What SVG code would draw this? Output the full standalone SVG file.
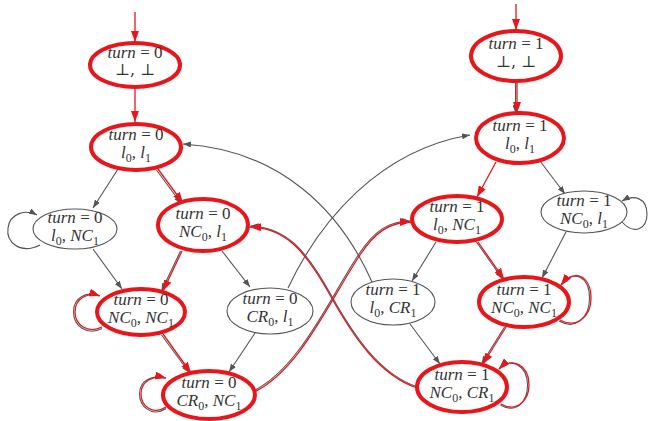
<svg xmlns="http://www.w3.org/2000/svg" width="648" height="421" viewBox="0 0 648 421">
<style>
.bg{fill:#ffffff}
.nr{fill:#ffffff;stroke:#e8151b;stroke-width:4}
.ng{fill:#ffffff;stroke:#555555;stroke-width:1.1}
.er{fill:none;stroke:#e8151b;stroke-width:1.3}
.eg{fill:none;stroke:#555555;stroke-width:1.1}
text{font-family:"Liberation Serif","Times New Roman","DejaVu Serif",serif;font-size:17px;fill:#333333;text-anchor:middle}
.i{font-style:italic}
.s{font-size:12px}
.bot{font-family:"DejaVu Serif","Liberation Serif",serif;font-size:16px}
</style>
<defs>
<marker id="ar" markerUnits="userSpaceOnUse" markerWidth="12" markerHeight="8" refX="11" refY="4" orient="auto"><path d="M0,0 L11,4 L0,8 z" fill="#e8151b"/></marker>
<marker id="ag" markerUnits="userSpaceOnUse" markerWidth="9" markerHeight="6" refX="8" refY="3" orient="auto"><path d="M0,0 L8,3 L0,6 z" fill="#555555"/></marker>
</defs>
<rect class="bg" x="0" y="0" width="648" height="421"/>
<g id="connectors">
<path class="er" d="M135,12 L135,42" marker-end="url(#ar)"/>
<path class="er" d="M516,4 L516,30" marker-end="url(#ar)"/>
<path class="er" d="M135,88 L135,122" marker-end="url(#ar)"/>
<path class="eg" d="M118,169 L93,208" marker-end="url(#ag)"/>
<path class="eg" d="M156.5,170 L181.5,204" marker-end="url(#ag)"/>
<path class="er" d="M158,169 L183,203" marker-end="url(#ar)"/>
<path class="eg" d="M93,249 L122,289" marker-end="url(#ag)"/>
<path class="eg" d="M180.5,251 L161.5,291" marker-end="url(#ag)"/>
<path class="er" d="M182,251 L163,291" marker-end="url(#ar)"/>
<path class="eg" d="M222,251 L250,287" marker-end="url(#ag)"/>
<path class="eg" d="M161.5,335 L189.5,373" marker-end="url(#ag)"/>
<path class="er" d="M163,334 L191,373" marker-end="url(#ar)"/>
<path class="eg" d="M255,333 L229,372" marker-end="url(#ag)"/>
<path class="eg" d="M515.5,82 L515.5,113" marker-end="url(#ag)"/>
<path class="er" d="M517,82 L517,113" marker-end="url(#ar)"/>
<path class="er" d="M496,162 L477,197" marker-end="url(#ar)"/>
<path class="eg" d="M540,161 L565,194" marker-end="url(#ag)"/>
<path class="eg" d="M436,242 L412,281" marker-end="url(#ag)"/>
<path class="eg" d="M476.5,242 L502.5,279" marker-end="url(#ag)"/>
<path class="er" d="M478,242 L504,279" marker-end="url(#ar)"/>
<path class="eg" d="M566,232 L542,278" marker-end="url(#ag)"/>
<path class="eg" d="M410,324 L440,364" marker-end="url(#ag)"/>
<path class="eg" d="M504.5,327 L481.5,364" marker-end="url(#ag)"/>
<path class="er" d="M506,327 L483,364" marker-end="url(#ar)"/>
<path class="eg" d="M40,245 C20,255 6,242 8,228 C10,213 26,209 37,215" marker-end="url(#ag)"/>
<path class="eg" d="M102,328.5 C87,336 73.5,326 73.5,312 C73.5,297 87,291 99.5,296" marker-end="url(#ag)"/>
<path class="er" d="M102,327 C88,334 75,325 75,312 C75,298 88,292 100,296" marker-end="url(#ar)"/>
<path class="eg" d="M166,408.5 C151,418 139.5,405.5 139.5,394 C139.5,380.5 152.5,374 165.5,378" marker-end="url(#ag)"/>
<path class="er" d="M166,407 C152,416 141,405 141,394 C141,381 153,375 166,378" marker-end="url(#ar)"/>
<path class="eg" d="M622,222 C635,236 647,228 647,214 C647,198 634,194 622,201" marker-end="url(#ag)"/>
<path class="eg" d="M559,321 C575.5,330.5 589.5,317.5 589.5,298 C589.5,277.5 575,268.5 561,285" marker-end="url(#ag)"/>
<path class="er" d="M560,320 C576,329 591,317 591,298 C591,277 575,267 561,285" marker-end="url(#ar)"/>
<path class="eg" d="M500.5,405 C516.5,414.5 527.5,401 527.5,385.5 C527.5,366 512,356.5 499,369" marker-end="url(#ag)"/>
<path class="er" d="M501,404 C517,413 529,400 529,385 C529,365 512,356 499,369" marker-end="url(#ar)"/>
<path class="eg" d="M288,288 C320,220 380,150 470,135" marker-end="url(#ag)"/>
<path class="eg" d="M372,282 C340,210 280,150 183,144" marker-end="url(#ag)"/>
<path class="eg" d="M253,391 C299,369 329,299 359,254 C374,231 389,221 410,221" marker-end="url(#ag)"/>
<path class="er" d="M254,392 C300,370 330,300 360,255 C375,232 390,222 411,222" marker-end="url(#ar)"/>
<path class="eg" d="M417.5,387 C380.5,374 355.5,339 330.5,294 C305.5,249 285.5,227 250.5,226" marker-end="url(#ag)"/>
<path class="er" d="M417,388 C380,375 355,340 330,295 C305,250 285,228 250,227" marker-end="url(#ar)"/>
</g>
<g id="n0_init">
<ellipse class="nr" cx="135" cy="65" rx="45" ry="22"/>
<text x="135" y="58"><tspan class="i">turn</tspan> = 0</text>
<text class="bot" x="135" y="75">⊥, ⊥</text>
</g>
<g id="n0_l0l1">
<ellipse class="nr" cx="136" cy="147" rx="45" ry="23"/>
<text x="136" y="140"><tspan class="i">turn</tspan> = 0</text>
<text x="136" y="158"><tspan class="i">l</tspan><tspan class="s" dy="4">0</tspan><tspan dy="-4">, </tspan><tspan class="i">l</tspan><tspan class="s" dy="4">1</tspan></text>
</g>
<g id="n0_l0NC1">
<ellipse class="ng" cx="75" cy="229" rx="42" ry="20"/>
<text x="75" y="223"><tspan class="i">turn</tspan> = 0</text>
<text x="75" y="241"><tspan class="i">l</tspan><tspan class="s" dy="4">0</tspan><tspan dy="-4">, </tspan><tspan class="i">NC</tspan><tspan class="s" dy="4">1</tspan></text>
</g>
<g id="n0_NC0l1">
<ellipse class="nr" cx="203" cy="225" rx="45" ry="26"/>
<text x="203" y="219"><tspan class="i">turn</tspan> = 0</text>
<text x="203" y="237"><tspan class="i">NC</tspan><tspan class="s" dy="4">0</tspan><tspan dy="-4">, </tspan><tspan class="i">l</tspan><tspan class="s" dy="4">1</tspan></text>
</g>
<g id="n0_NC0NC1">
<ellipse class="nr" cx="141" cy="312" rx="44" ry="23"/>
<text x="141" y="305"><tspan class="i">turn</tspan> = 0</text>
<text x="141" y="323"><tspan class="i">NC</tspan><tspan class="s" dy="4">0</tspan><tspan dy="-4">, </tspan><tspan class="i">NC</tspan><tspan class="s" dy="4">1</tspan></text>
</g>
<g id="n0_CR0l1">
<ellipse class="ng" cx="270" cy="311" rx="43" ry="23"/>
<text x="270" y="304"><tspan class="i">turn</tspan> = 0</text>
<text x="270" y="322"><tspan class="i">CR</tspan><tspan class="s" dy="4">0</tspan><tspan dy="-4">, </tspan><tspan class="i">l</tspan><tspan class="s" dy="4">1</tspan></text>
</g>
<g id="n0_CR0NC1">
<ellipse class="nr" cx="209" cy="395" rx="46" ry="24"/>
<text x="209" y="388"><tspan class="i">turn</tspan> = 0</text>
<text x="209" y="406"><tspan class="i">CR</tspan><tspan class="s" dy="4">0</tspan><tspan dy="-4">, </tspan><tspan class="i">NC</tspan><tspan class="s" dy="4">1</tspan></text>
</g>
<g id="n1_init">
<ellipse class="nr" cx="516" cy="56" rx="45" ry="25"/>
<text x="516" y="49"><tspan class="i">turn</tspan> = 1</text>
<text class="bot" x="516" y="67">⊥, ⊥</text>
</g>
<g id="n1_l0l1">
<ellipse class="nr" cx="520" cy="138" rx="44" ry="25"/>
<text x="520" y="131"><tspan class="i">turn</tspan> = 1</text>
<text x="520" y="149"><tspan class="i">l</tspan><tspan class="s" dy="4">0</tspan><tspan dy="-4">, </tspan><tspan class="i">l</tspan><tspan class="s" dy="4">1</tspan></text>
</g>
<g id="n1_l0NC1">
<ellipse class="nr" cx="457" cy="219" rx="45" ry="23"/>
<text x="457" y="212"><tspan class="i">turn</tspan> = 1</text>
<text x="457" y="230"><tspan class="i">l</tspan><tspan class="s" dy="4">0</tspan><tspan dy="-4">, </tspan><tspan class="i">NC</tspan><tspan class="s" dy="4">1</tspan></text>
</g>
<g id="n1_NC0l1">
<ellipse class="ng" cx="584" cy="212" rx="43" ry="21"/>
<text x="584" y="206"><tspan class="i">turn</tspan> = 1</text>
<text x="584" y="224"><tspan class="i">NC</tspan><tspan class="s" dy="4">0</tspan><tspan dy="-4">, </tspan><tspan class="i">l</tspan><tspan class="s" dy="4">1</tspan></text>
</g>
<g id="n1_l0CR1">
<ellipse class="ng" cx="393" cy="302" rx="42" ry="23"/>
<text x="393" y="295"><tspan class="i">turn</tspan> = 1</text>
<text x="393" y="313"><tspan class="i">l</tspan><tspan class="s" dy="4">0</tspan><tspan dy="-4">, </tspan><tspan class="i">CR</tspan><tspan class="s" dy="4">1</tspan></text>
</g>
<g id="n1_NC0NC1">
<ellipse class="nr" cx="524" cy="302" rx="45" ry="25"/>
<text x="524" y="295"><tspan class="i">turn</tspan> = 1</text>
<text x="524" y="313"><tspan class="i">NC</tspan><tspan class="s" dy="4">0</tspan><tspan dy="-4">, </tspan><tspan class="i">NC</tspan><tspan class="s" dy="4">1</tspan></text>
</g>
<g id="n1_NC0CR1">
<ellipse class="nr" cx="462" cy="387" rx="45" ry="25"/>
<text x="462" y="380"><tspan class="i">turn</tspan> = 1</text>
<text x="462" y="398"><tspan class="i">NC</tspan><tspan class="s" dy="4">0</tspan><tspan dy="-4">, </tspan><tspan class="i">CR</tspan><tspan class="s" dy="4">1</tspan></text>
</g>
</svg>
